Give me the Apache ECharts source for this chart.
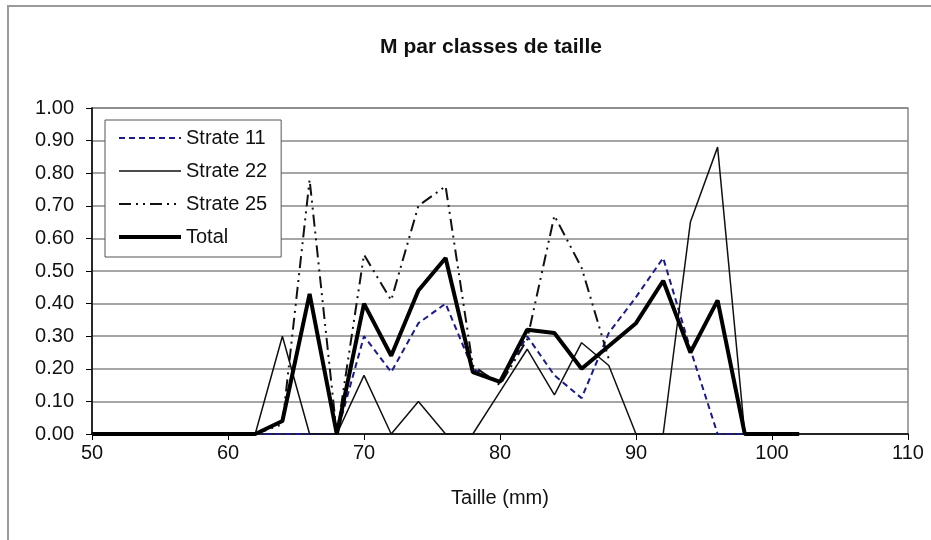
<!DOCTYPE html>
<html>
<head>
<meta charset="utf-8">
<script src="https://cdn.jsdelivr.net/npm/echarts@6/dist/echarts.min.js"></script>
<style>
html,body{margin:0;padding:0;background:#fff;}
#c{width:931px;height:540px;}
</style>
</head>
<body>
<div id="c"></div>
<script>
const sizes = [50,52,54,56,58,60,62,64,66,68,70,72,74,76,78,80,82,84,86,88,90,92,94,96,98,100,102];
const strate11 = [null,null,null,null,null,null,0,0,0,0,0.30,0.19,0.34,0.40,0.20,0.16,0.30,0.18,0.11,0.31,0.42,0.54,0.26,0,0,null,null];
const strate22 = [0,0,0,0,0,0,0,0.30,0,0,0.18,0,0.10,0,0,0.13,0.26,0.12,0.28,0.21,0,0,0.65,0.88,0,0,0];
const strate25 = [null,null,null,null,null,null,0,0.03,0.78,0,0.55,0.41,0.70,0.76,0.21,0.15,0.29,0.67,0.51,0.23,null,null,null,null,null,null,null];
const total    = [0,0,0,0,0,0,0,0.04,0.43,0,0.40,0.24,0.44,0.54,0.19,0.16,0.32,0.31,0.20,0.27,0.34,0.47,0.25,0.41,0,0,0];
const yTicks = ['0.00','0.10','0.20','0.30','0.40','0.50','0.60','0.70','0.80','0.90','1.00'];

function pairs(arr){ return sizes.map((x,i)=>[x, arr[i]]); }

const font = 'Liberation Sans, Arial, sans-serif';
const chart = echarts.init(document.getElementById('c'));
chart.setOption({
  animation: false,
  backgroundColor: '#fff',
  textStyle: {fontFamily: font},
  title: {
    text: 'M par classes de taille',
    left: 486, top: 32, textAlign: 'center',
    textStyle: {fontSize: 21, fontWeight: 'bold', color: '#111', fontFamily: font}
  },
  graphic: [{
    type: 'rect', shape: {x: 8, y: 6, width: 940, height: 560},
    style: {fill: 'none', stroke: '#9a9a9a', lineWidth: 2}, silent: true, z: -1
  }],
  legend: {
    orient: 'vertical', left: 105, top: 120,
    backgroundColor: '#fff', borderColor: '#555', borderWidth: 1,
    padding: [8, 14, 10, 12], itemGap: 13, itemWidth: 62, itemHeight: 14,
    itemStyle: {opacity: 0, borderWidth: 0},
    textStyle: {fontSize: 20, color: '#111', fontFamily: font},
    data: [
      {name: 'Strate 11', lineStyle: {width: 2}},
      {name: 'Strate 22', lineStyle: {width: 1.5}},
      {name: 'Strate 25', lineStyle: {width: 2}},
      {name: 'Total', lineStyle: {width: 4}}
    ]
  },
  grid: {left: 92, top: 108, right: 23, bottom: 106, show: true, borderColor: '#888', borderWidth: 1.5, containLabel: false},
  xAxis: {
    type: 'value', min: 50, max: 110, interval: 10,
    name: 'Taille (mm)', nameLocation: 'middle', nameGap: 54,
    nameTextStyle: {fontSize: 20, color: '#111', fontFamily: font},
    axisLine: {show: true, lineStyle: {color: '#000', width: 1.5}},
    axisTick: {show: true, length: 6, lineStyle: {color: '#000'}},
    axisLabel: {fontSize: 20, color: '#111', margin: 9, fontFamily: font},
    splitLine: {show: false}
  },
  yAxis: {
    type: 'value', min: 0, max: 1, interval: 0.1,
    axisLine: {show: true, lineStyle: {color: '#000', width: 1.5}},
    axisTick: {show: true, length: 6, lineStyle: {color: '#000'}},
    axisLabel: {fontSize: 20, color: '#111', margin: 18, fontFamily: font,
      formatter: (v) => yTicks[Math.round(v*10)]},
    splitLine: {show: true, lineStyle: {color: '#888', width: 1.5}}
  },
  series: [
    {name: 'Strate 11', type: 'line', data: pairs(strate11), symbol: 'none', connectNulls: false,
     lineStyle: {color: '#1a1a8c', width: 2, type: [6, 4]}, itemStyle: {color: '#1a1a8c'}},
    {name: 'Strate 22', type: 'line', data: pairs(strate22), symbol: 'none',
     lineStyle: {color: '#111', width: 1.5}, itemStyle: {color: '#111'}},
    {name: 'Strate 25', type: 'line', data: pairs(strate25), symbol: 'none', connectNulls: false,
     lineStyle: {color: '#111', width: 2, type: [12, 5, 2, 5, 2, 5]}, itemStyle: {color: '#111'}},
    {name: 'Total', type: 'line', data: pairs(total), symbol: 'none',
     lineStyle: {color: '#000', width: 4}, itemStyle: {color: '#000'}}
  ]
});
</script>
</body>
</html>
